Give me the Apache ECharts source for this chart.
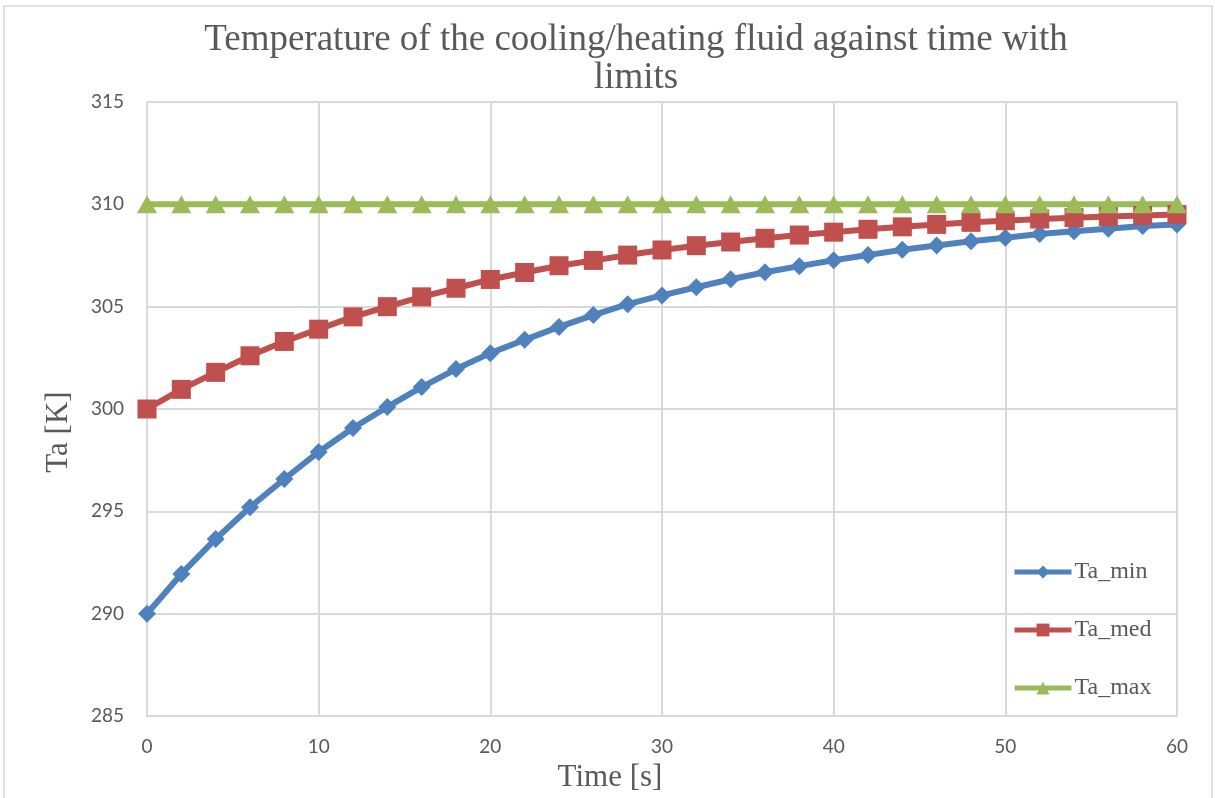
<!DOCTYPE html>
<html>
<head>
<meta charset="utf-8">
<title>Temperature of the cooling/heating fluid against time with limits</title>
<script src="https://cdn.jsdelivr.net/npm/echarts@6/dist/echarts.min.js"></script>
<style>
  html, body { margin: 0; padding: 0; background: #ffffff; }
  #chart { width: 1215px; height: 798px; }
</style>
</head>
<body>
<div id="chart"></div>
<script>
// Sample times [s]
const times = [0, 2, 4, 6, 8, 10, 12, 14, 16, 18, 20, 22, 24, 26, 28, 30,
               32, 34, 36, 38, 40, 42, 44, 46, 48, 50, 52, 54, 56, 58, 60];

// Fluid temperature Ta [K] for the three starting conditions
const taMin = [290.00, 291.94, 293.65, 295.20, 296.58, 297.90, 299.07, 300.10,
               301.07, 301.95, 302.73, 303.38, 304.01, 304.59, 305.12, 305.55,
               305.95, 306.34, 306.68, 306.98, 307.27, 307.52, 307.78, 307.99,
               308.20, 308.37, 308.55, 308.69, 308.81, 308.94, 309.02];
const taMed = [300.00, 300.96, 301.79, 302.60, 303.30, 303.90, 304.50, 305.00,
               305.48, 305.90, 306.33, 306.67, 307.00, 307.26, 307.52, 307.77,
               307.98, 308.16, 308.34, 308.50, 308.64, 308.78, 308.90, 309.02,
               309.12, 309.20, 309.28, 309.35, 309.40, 309.45, 309.50];
const taMax = times.map(() => 310);

const seriesNames = ['Ta_min', 'Ta_med', 'Ta_max'];
const xTicks = { min: 0, max: 60, interval: 10 };
const yTicks = { min: 285, max: 315, interval: 5 };

const pairs = (ys) => times.map((t, i) => [t, ys[i]]);

const serif = '"Liberation Serif", "Times New Roman", serif';
const sans = 'Lato, "Open Sans", sans-serif';
const textGrey = '#595959';
const gridGrey = '#d9d9d9';

const chart = echarts.init(document.getElementById('chart'), null, { renderer: 'canvas' });

chart.setOption({
  animation: false,
  backgroundColor: '#ffffff',
  title: [
    {
      text: 'Temperature of the cooling/heating fluid against time with\nlimits',
      left: 631, top: 16, textAlign: 'center',
      textStyle: { fontFamily: serif, fontSize: 37, fontWeight: 'normal', color: textGrey, lineHeight: 38 }
    },
    {
      text: 'Time [s]',
      left: 605, top: 757, textAlign: 'center',
      textStyle: { fontFamily: serif, fontSize: 31, fontWeight: 'normal', color: textGrey }
    }
  ],
  graphic: [
    {
      type: 'rect', silent: true, z: -1,
      shape: { x: 4, y: 6, width: 1208, height: 800 },
      style: { fill: 'none', stroke: '#d9d9d9', lineWidth: 1.5 }
    },
    {
      type: 'text', silent: true,
      x: 59, y: 432, rotation: Math.PI / 2,
      style: {
        text: 'Ta [K]', fontFamily: serif, fontSize: 31, fill: textGrey,
        align: 'center', verticalAlign: 'middle'
      }
    }
  ],
  legend: {
    orient: 'vertical',
    left: 1012, top: 560, padding: 0,
    itemWidth: 57, itemHeight: 16, itemGap: 34,
    data: seriesNames,
    lineStyle: { width: 5 },
    textStyle: { fontFamily: serif, fontSize: 24, color: textGrey, lineHeight: 24, padding: [0, 0, 0, -2] }
  },
  grid: { left: 147, right: 38, top: 102, bottom: 82, containLabel: false },
  xAxis: {
    type: 'value',
    min: xTicks.min, max: xTicks.max, interval: xTicks.interval,
    axisLine: { show: true, lineStyle: { color: gridGrey, width: 2 } },
    axisTick: { show: false },
    axisLabel: { fontFamily: sans, fontSize: 19, color: textGrey, margin: 21 },
    splitLine: { show: true, lineStyle: { color: gridGrey, width: 2 } }
  },
  yAxis: {
    type: 'value',
    min: yTicks.min, max: yTicks.max, interval: yTicks.interval,
    axisLine: { show: true, lineStyle: { color: gridGrey, width: 2 } },
    axisTick: { show: false },
    axisLabel: { fontFamily: sans, fontSize: 19, color: textGrey, margin: 23 },
    splitLine: { show: true, lineStyle: { color: gridGrey, width: 2 } }
  },
  series: [
    {
      name: seriesNames[0], type: 'line', data: pairs(taMin),
      symbol: 'diamond', symbolSize: 18,
      lineStyle: { color: '#4f81bd', width: 6 },
      itemStyle: { color: '#4f81bd' }
    },
    {
      name: seriesNames[1], type: 'line', data: pairs(taMed),
      symbol: 'rect', symbolSize: 19,
      lineStyle: { color: '#c0504d', width: 6 },
      itemStyle: { color: '#c0504d' }
    },
    {
      name: seriesNames[2], type: 'line', data: pairs(taMax),
      symbol: 'triangle', symbolSize: [20, 18],
      lineStyle: { color: '#9bbb59', width: 6 },
      itemStyle: { color: '#9bbb59' }
    }
  ]
});
</script>
</body>
</html>
